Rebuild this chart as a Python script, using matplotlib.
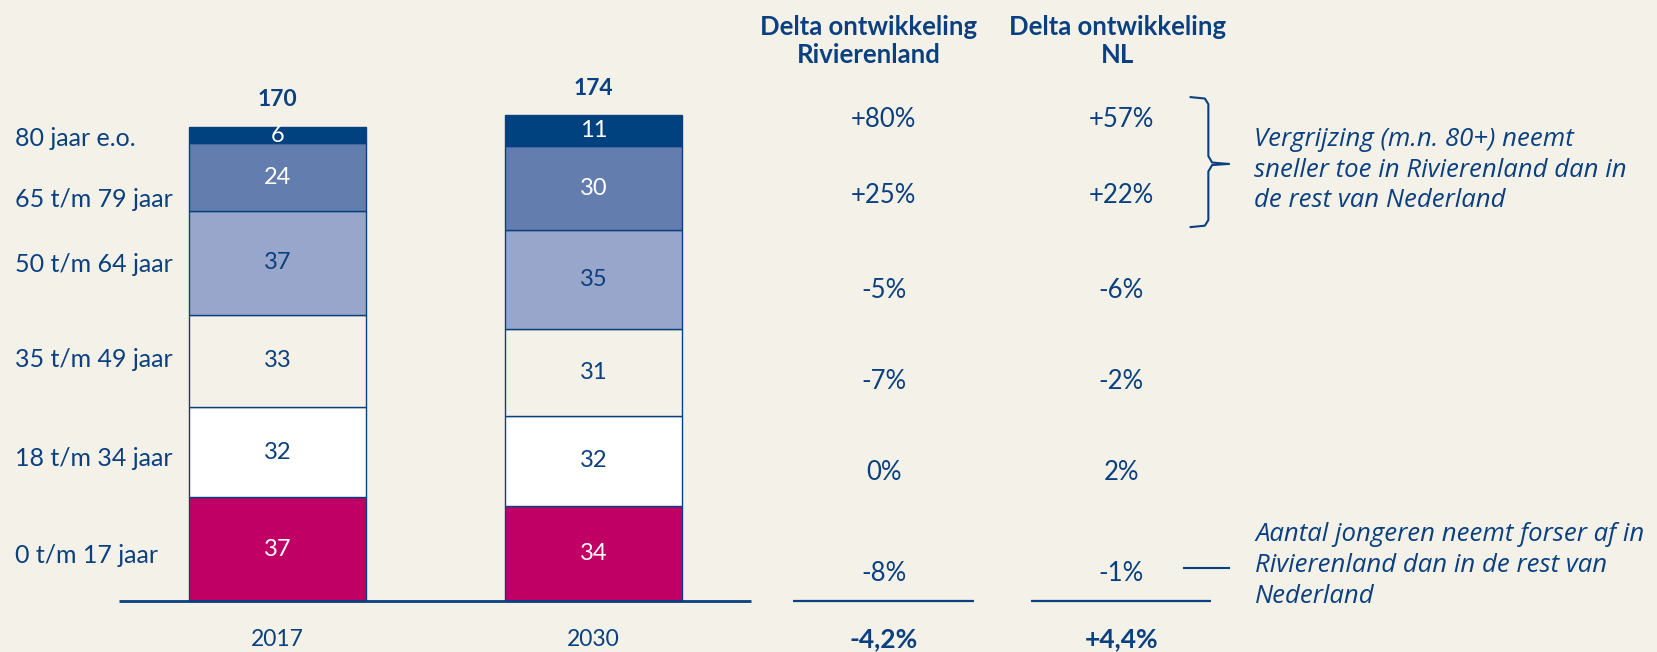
import matplotlib.pyplot as plt
import numpy as np

plt.rcParams["font.family"] = ["Lato", "DejaVu Sans"]

# data
categories = ["0 t/m 17 jaar", "18 t/m 34 jaar", "35 t/m 49 jaar",
              "50 t/m 64 jaar", "65 t/m 79 jaar", "80 jaar e.o."]
years = ["2017", "2030"]
values_2017 = [37, 32, 33, 37, 24, 6]
values_2030 = [34, 32, 31, 35, 30, 11]
totals = [170, 174]
delta_rivierenland = ["-8%", "0%", "-7%", "-5%", "+25%", "+80%"]
delta_nl = ["-1%", "2%", "-2%", "-6%", "+22%", "+57%"]
total_delta = ["-4,2%", "+4,4%"]
headers = ["Delta ontwikkeling\nRivierenland", "Delta ontwikkeling\nNL"]
note_top = "Vergrijzing (m.n. 80+) neemt\nsneller toe in Rivierenland dan in\nde rest van Nederland"
note_bottom = "Aantal jongeren neemt forser af in\nRivierenland dan in de rest van\nNederland"

# styling
navy = "#0A407F"
bg = "#F4F1E9"
seg_colors = ["#C10065", "#FFFFFF", bg, "#97A6CA", "#637DAF", "#00417F"]
txt_colors = ["white", navy, navy, navy, "white", "white"]

# layout (data units)
label_y = [16.2, 50.8, 85.9, 119.8, 143.1, 164.6]
delta_y = [9.8, 45.6, 78.3, 110.7, 144.6, 171.4]
col_x = [1.918, 2.67]
head_x = [1.871, 2.658]
bar_width = 0.56

fig = plt.figure(figsize=(16.58, 6.52), dpi=100, facecolor=bg)
ax = fig.add_axes([0, 0, 1, 1])
ax.set_facecolor(bg)
ax.set_xlim(-0.878, 4.369)
ax.set_ylim(-18.17, 214.1)
ax.axis("off")

x = np.arange(len(years))
series = np.array([values_2017, values_2030])
bottoms = np.zeros(len(years))
for i, cat in enumerate(categories):
    vals = series[:, i]
    ax.bar(x, vals, bar_width, bottom=bottoms, color=seg_colors[i],
           edgecolor=navy, linewidth=1)
    for xi, v, b in zip(x, vals, bottoms):
        ax.text(xi, b + v / 2, str(v), ha="center", va="center",
                fontsize=17, color=txt_colors[i])
    bottoms += vals

# totals above bars and year labels
for xi, tot, top, yr in zip(x, totals, bottoms, years):
    ax.text(xi, top + 9.5, str(tot), ha="center", va="center",
            fontsize=16.5, fontweight="bold", color=navy)
    ax.text(xi, -13.6, yr, ha="center", va="center", fontsize=16.5, color=navy)

# category labels
for cat, y in zip(categories, label_y):
    ax.text(-0.831, y, cat, ha="left", va="center", fontsize=18, color=navy)

# baseline
ax.plot([-0.5, 1.5], [0, 0], color=navy, lw=2, solid_capstyle="butt")

# delta columns
for cx, hx, head, deltas, tot in zip(col_x, head_x, headers,
                                     [delta_rivierenland, delta_nl], total_delta):
    ax.text(hx, 199.4, head, ha="center", va="center", fontsize=18.5,
            fontweight="bold", color=navy, linespacing=1.2)
    for d, y in zip(deltas, delta_y):
        ax.text(cx, y, d, ha="center", va="center", fontsize=18.5, color=navy)
    ax.plot([cx - 0.285, cx + 0.285], [0, 0], color=navy, lw=1.6,
            solid_capstyle="butt")
    ax.text(cx, -13.6, tot, ha="center", va="center", fontsize=19,
            fontweight="bold", color=navy)

# bracket
bx = [2.89, 2.935, 2.946, 2.946, 2.958, 3.01]
by_top = [179.5, 179.0, 177.0, 158.5, 156.2, 155.7]
by_bot = [133.2, 133.7, 135.7, 153.0, 155.3, 155.7]
ax.plot(bx, by_top, color=navy, lw=1.5)
ax.plot(bx, by_bot, color=navy, lw=1.5)

ax.text(3.09, 153.5, note_top, ha="left", va="center", fontsize=18.5,
        family=["Open Sans", "DejaVu Sans"], style="italic", color=navy,
        linespacing=1.3)

# pointer line for bottom note
ax.plot([2.87, 3.01], [11.8, 11.8], color=navy, lw=1.5)
ax.text(3.095, 12.6, note_bottom, ha="left", va="center", fontsize=18.5,
        family=["Open Sans", "DejaVu Sans"], style="italic", color=navy,
        linespacing=1.3)

plt.savefig("out.png", dpi=100, facecolor=bg)
plt.close(fig)
